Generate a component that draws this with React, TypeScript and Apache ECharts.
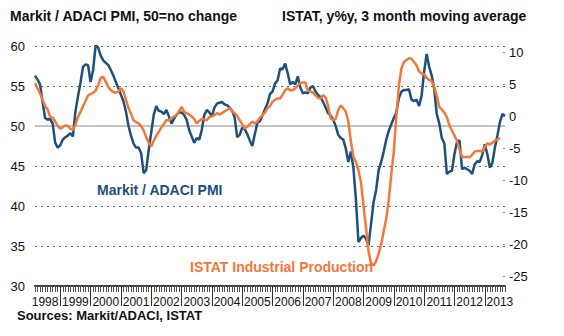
import React, { useEffect, useRef } from "react";
import * as echarts from "echarts";

// Monthly data, March 1998 – September 2013
const startYear = 1998;
const startMonth = 3;

// Markit / ADACI manufacturing PMI (left axis)
const pmi = [
  56.3, 55.8, 55.2, 53.0, 51.0, 50.8, 50.9, 50.3, 47.9, 47.3,
  47.6, 48.3, 48.6, 48.8, 49.1, 48.7, 51.8, 53.7, 55.4, 57.4, 57.7, 57.6,
  55.5, 57.0, 60.1, 59.8, 58.8, 58.2, 57.9, 57.6, 57.0, 56.3, 55.5, 54.7,
  53.9, 53.1, 51.8, 50.0, 48.8, 47.8, 47.3, 47.3, 46.6, 44.1, 44.5, 47.0,
  49.2, 51.4, 52.5, 51.9, 51.8, 51.5, 52.0, 51.2, 50.3, 50.9, 51.4, 51.7,
  51.7, 51.4, 50.8, 49.5, 48.7, 47.9, 48.5, 48.3, 49.5, 51.4, 52.0, 51.7,
  51.2, 52.3, 52.8, 52.9, 53.0, 52.7, 52.6, 52.3, 51.9, 51.1, 48.6, 48.9,
  49.8, 49.6, 49.0, 48.2, 47.5, 49.0, 50.4, 50.6, 51.3, 52.1, 52.8, 54.0,
  54.3, 55.3, 55.7, 57.2, 57.1, 57.8, 56.6, 55.2, 55.5, 55.2, 56.2, 54.8,
  54.1, 54.2, 54.1, 54.8, 55.0, 54.3, 53.9, 53.6, 53.0, 52.3, 51.6, 51.3,
  50.8, 50.0, 48.9, 48.5, 48.3, 47.2, 45.5, 46.8, 44.8, 40.8, 35.5, 36.0,
  36.3, 35.9, 35.1, 37.8, 40.5, 42.0, 44.5, 45.5, 46.8, 48.3, 49.4, 50.2,
  51.0, 51.7, 53.5, 54.3, 54.5, 54.5, 54.6, 53.3, 53.1, 53.3, 52.5, 53.8,
  56.8, 59.0, 57.4, 56.3, 54.6, 51.5, 50.3, 48.5, 47.8, 44.0, 44.3, 44.4,
  46.5, 48.0, 48.2, 44.6, 44.8, 44.6, 44.4, 44.0, 45.2, 45.6, 45.5, 46.4,
  47.7, 46.5, 44.8, 45.4, 47.3, 48.8, 50.5, 51.5, 51.3,
];

// ISTAT industrial production, y/y %, 3-month moving average (right axis)
const istat = [
  5.2, 4.4, 3.6, 2.6, 1.6, 1.1, -0.1, -0.2, -0.8, -1.5,
  -1.9, -1.7, -1.4, -1.5, -1.9, -2.1, -1.3, -0.1, 0.7, 1.6, 2.4, 3.3,
  3.5, 3.7, 4.0, 4.9, 6.0, 6.2, 5.4, 4.6, 4.1, 3.8, 3.7, 3.9,
  4.4, 3.9, 2.6, 1.3, 0.4, -0.6, -0.9, -1.1, -1.5, -2.2, -3.2, -4.1,
  -4.7, -3.8, -3.0, -2.4, -1.7, -1.2, -0.6, -0.6, -0.3, 0.0, 0.2, 0.8,
  1.5, 0.7, 0.5, 0.3, 0.0, -0.4, -1.1, -0.7, -0.4, -0.5, -0.6, -0.1,
  0.0, 0.2, 0.5, 0.3, 0.5, 0.8, 1.0, 1.3, 0.8, 0.5, 0.1, -0.6,
  -1.2, -1.9, -1.6, -1.2, -0.8, -1.1, -0.8, -0.2, 0.2, 0.6, 1.3, 1.6,
  2.3, 2.6, 2.8, 2.8, 3.4, 4.1, 4.4, 4.1, 4.1, 4.4, 4.8, 5.2,
  5.3, 5.3, 4.0, 3.9, 3.7, 3.3, 2.9, 2.8, 3.3, 3.0, 1.6, -0.3,
  -0.6, -0.4, 1.0, 1.7, 1.3, 0.7, -0.8, -3.9, -6.3, -7.1, -8.4, -10.3,
  -13.9, -17.4, -21.1, -23.0, -23.3, -22.6, -21.4, -20.0, -17.9, -16.0, -13.0, -9.0,
  -5.5, 0.0, 4.8, 7.5, 8.5, 8.8, 9.1, 9.0, 8.5, 8.0, 7.0, 6.7,
  6.6, 6.0, 5.7, 5.5, 4.6, 3.2, 1.5, 1.1, 0.6, -0.1, -1.4, -2.2,
  -3.0, -3.8, -5.2, -6.3, -6.4, -6.3, -6.4, -6.0, -5.5, -5.4, -5.4, -5.5,
  -4.8, -4.2, -4.4, -4.1, -3.8, -3.6, -3.4,
];

const noChangeLevel = 50;
const leftTicks = [30, 35, 40, 45, 50, 55, 60];

const months: string[] = [];
for (let i = 0; i < pmi.length; i++) {
  const m = startMonth - 1 + i;
  const y = startYear + Math.floor(m / 12);
  const mm = (m % 12) + 1;
  months.push(`${y}-${mm < 10 ? "0" + mm : mm}`);
}

const BLUE = "#1f4f7d";
const ORANGE = "#f2783a";
const FONT = "Liberation Sans";

export default function App() {
  const ref = useRef<HTMLDivElement>(null);
  useEffect(() => {
    document.body.style.margin = "0";
    const chart = echarts.init(ref.current!, null, { renderer: "svg" });
    chart.setOption({
      animation: false,
      backgroundColor: "#ffffff",
      textStyle: { fontFamily: FONT },
      grid: { left: 35, right: 59, top: 46, bottom: 50, containLabel: false },
      xAxis: [
        {
          type: "category",
          data: months,
          boundaryGap: false,
          axisLine: { show: true, onZero: false, lineStyle: { color: "#444", width: 2 } },
          axisTick: { show: true, interval: 0, length: 6, lineStyle: { color: "#555", width: 1 } },
          axisLabel: { show: false },
          splitLine: { show: false },
        },
        {
          type: "category",
          data: months,
          boundaryGap: false,
          position: "bottom",
          axisLine: { show: false, onZero: false },
          axisTick: {
            show: true,
            interval: (_i: number, v: string) => v.endsWith("-01"),
            length: 20,
            lineStyle: { color: "#333", width: 1 },
          },
          axisLabel: {
            show: true,
            interval: (_i: number, v: string) => v.endsWith("-07"),
            formatter: (v: string) => v.slice(0, 4),
            fontSize: 12,
            lineHeight: 12,
            color: "#111",
            margin: 10,
            fontFamily: FONT,
          },
          splitLine: { show: false },
        },
      ],
      yAxis: [
        {
          type: "value",
          min: leftTicks[0],
          max: leftTicks[leftTicks.length - 1],
          interval: 5,
          position: "left",
          axisLine: { show: false },
          axisTick: { show: false },
          axisLabel: { fontSize: 13, color: "#111", margin: 10, fontFamily: FONT },
          splitLine: { show: true, lineStyle: { color: "#666", width: 1, type: [2, 4] } },
        },
        {
          type: "value",
          min: -26.5,
          max: 11,
          splitNumber: 7,
          position: "right",
          axisLine: { show: false },
          axisTick: { show: true, inside: true, length: 2, lineStyle: { color: "#888" } },
          axisLabel: {
            fontSize: 13,
            color: "#111",
            margin: 4,
            showMinLabel: false,
            showMaxLabel: false,
            fontFamily: FONT,
          },
          splitLine: { show: false },
        },
      ],
      series: [
        {
          name: "no change",
          type: "line",
          xAxisIndex: 0,
          yAxisIndex: 0,
          data: months.map(() => noChangeLevel),
          showSymbol: false,
          symbol: "none",
          silent: true,
          lineStyle: { color: "#c4c4c4", width: 2 },
        },
        {
          name: "Markit / ADACI PMI",
          type: "line",
          xAxisIndex: 0,
          yAxisIndex: 0,
          data: pmi,
          showSymbol: false,
          symbol: "none",
          lineStyle: { color: BLUE, width: 2.5 },
        },
        {
          name: "ISTAT Industrial Production",
          type: "line",
          xAxisIndex: 0,
          yAxisIndex: 1,
          data: istat,
          showSymbol: false,
          symbol: "none",
          lineStyle: { color: ORANGE, width: 2.5 },
        },
      ],
      graphic: [
        {
          type: "text",
          left: 10,
          top: 9,
          style: { text: "Markit / ADACI PMI, 50=no change", font: `bold 14px "${FONT}"`, fill: "#111" },
        },
        {
          type: "text",
          left: 282,
          top: 9,
          style: { text: "ISTAT, y%y, 3 month moving average", font: `bold 14px "${FONT}"`, fill: "#111" },
        },
        {
          type: "text",
          left: 97,
          top: 183,
          style: { text: "Markit / ADACI PMI", font: `bold 14px "${FONT}"`, fill: BLUE },
        },
        {
          type: "text",
          left: 190,
          top: 260,
          style: { text: "ISTAT Industrial Production", font: `bold 14px "${FONT}"`, fill: ORANGE },
        },
        {
          type: "text",
          left: 17,
          top: 309,
          style: { text: "Sources: Markit/ADACI, ISTAT", font: `bold 13px "${FONT}"`, fill: "#111" },
        },
      ],
    });
    return () => chart.dispose();
  }, []);
  return <div ref={ref} style={{ width: 564, height: 336 }} />;
}
